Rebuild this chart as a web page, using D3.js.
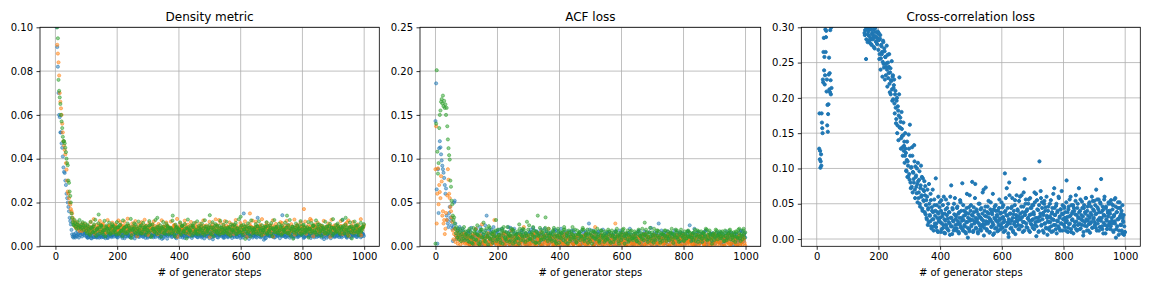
<!DOCTYPE html>
<html>
<head>
<meta charset="utf-8">
<script src="https://cdn.jsdelivr.net/npm/d3@7"></script>
<style>
  body { margin: 0; background: #fff; }
  svg { font-family: "DejaVu Sans", sans-serif; }
</style>
</head>
<body>
<svg id="chart" width="1152" height="288"></svg>
<script>
// x = generator step
const steps = d3.range(0, 100, 2).concat(d3.range(100, 1000, 5));
const stepsB = d3.range(102, 1000, 5);
const stepsC = d3.range(104, 1000, 5);
const stepsXcorr = d3.range(0, 1000, 2);
const stepsXcorrB = d3.range(1, 1000, 2);

// Density metric, values x 1e-4
const densityBlue = [1300,1150,1000,910,820,700,600,590,520,520,470,450,410,360,340,335,300,280,240,220,200,180,160,130,115,100,75,55,45,40,55,45,40,60,50,45,70,55,40,60,50,65,75,45,60,55,70,50,60,65,
  45,40,52,38,60,42,48,40,56,44,62,42,50,48,38,58,46,52,
  57,64,49,73,58,46,62,55,69,50,44,63,58,71,52,47,60,56,
  62,49,55,68,45,59,74,52,47,63,57,50,66,34,58,61,53,70,
  48,56,63,51,67,45,59,54,72,49,58,62,46,55,68,51,60,47,
  57,64,50,46,61,55,70,48,53,66,32,58,52,63,49,57,71,45,
  54,60,47,65,52,58,43,69,56,50,62,48,150,57,45,66,53,59,
  49,61,55,130,46,58,63,30,56,51,67,47,59,44,62,53,48,60,
  55,142,50,64,47,58,53,69,45,61,56,49,66,52,58,44,63,57,
  50,67,46,59,54,62,48,70,52,57,33,63,55,49,68,53,60,46,
  58,51,65,47,120,56,62,44,59,53,68,49,61,56,72,50,64,58];
const densityBlueB = [50,43,58,36,47,62,41,53,39,49,66,44,37,55,48,60,42,51,
  63,47,40,56,52,38,70,45,59,49,42,61,54,36,48,67,43,57,
  46,59,38,52,64,44,50,41,57,72,47,39,53,61,45,50,35,58,
  54,42,66,48,37,56,51,62,40,47,58,44,69,52,38,55,49,63,
  41,57,48,53,36,64,46,59,51,43,67,49,55,40,61,47,52,39,
  58,45,62,50,38,54,71,43,56,48,63,40,52,59,46,34,57,65,
  47,53,40,60,55,44,68,49,38,58,51,63,45,56,42,61,50,37,
  62,48,55,41,95,52,46,59,39,65,50,44,57,53,71,42,48,60,
  52,38,61,47,56,43,66,51,40,58,49,62,45,54,37,59,48,64,
  45,60,50,41,57,68,44,53,62,39,55,48,66,42,51,59,46,54];
const densityBlueC = [39,56,47,61,42,53,45,68,50,41,57,46,63,40,54,49,65,44,
  55,42,59,48,64,51,37,57,45,62,53,40,66,49,58,44,52,61,
  43,64,50,39,56,47,60,53,42,58,66,45,51,38,62,55,48,59,
  61,46,53,40,58,65,43,50,57,38,63,51,45,59,47,70,54,42,
  48,62,40,56,51,45,58,37,64,53,47,60,42,56,50,66,39,55,
  53,41,60,47,67,49,56,42,61,38,54,50,65,44,58,47,53,40,
  59,44,52,64,41,57,48,36,62,50,45,66,53,40,57,48,60,52,
  46,58,43,63,50,39,67,54,47,57,42,61,49,56,38,64,51,45,
  57,49,63,41,53,60,46,51,68,44,55,39,62,50,47,58,42,61,
  50,42,57,63,48,54,39,61,46,58,52,67,44,49,60,41,56,47];
const densityOrange = [1400,1200,1050,920,880,840,780,700,660,630,600,560,520,480,460,440,420,380,350,300,250,240,220,200,190,170,160,150,130,120,110,95,90,85,110,95,80,100,90,70,85,95,80,70,105,90,75,85,100,80,
  85,72,90,68,78,95,66,82,74,100,70,88,76,64,92,80,71,86,
  75,93,68,84,110,72,79,88,65,96,74,82,70,90,77,46,85,73,
  80,69,94,76,52,87,73,100,68,82,75,91,64,78,86,70,95,72,
  66,84,77,92,70,43,88,75,81,67,98,72,79,54,86,74,69,90,
  76,65,83,71,94,68,80,74,42,89,73,85,67,78,120,70,84,66,
  79,72,88,54,76,93,69,81,74,66,87,71,78,95,43,84,150,72,
  80,67,91,74,63,85,52,79,68,94,70,83,76,44,89,73,81,69,
  77,88,65,82,71,96,68,79,74,53,86,72,80,90,67,170,76,84,
  70,125,78,46,89,73,81,64,94,71,77,58,86,74,43,90,75,82,
  69,85,72,93,56,80,74,110,48,87,72,78,65,91,76,83,50,88];
const densityOrangeB = [68,82,61,75,90,57,79,70,86,64,98,73,59,81,67,92,74,63,
  88,66,77,59,83,71,95,62,78,85,69,56,91,75,64,80,72,99,
  61,79,70,87,58,74,93,66,81,69,55,84,76,62,90,71,79,65,
  84,63,72,96,68,80,57,77,89,65,74,60,86,70,93,62,78,73,
  67,91,75,60,82,70,64,88,76,58,85,72,97,66,79,61,73,87,
  74,60,89,69,81,56,78,94,63,72,86,67,59,83,75,68,90,62,
  85,71,63,79,92,66,74,57,87,70,81,62,95,73,64,84,69,78,
  60,83,74,67,90,58,78,71,85,64,96,75,62,80,69,88,57,76,
  79,65,92,71,60,84,73,66,89,77,58,82,70,95,63,76,86,68,
  72,88,61,80,67,93,75,58,84,70,63,91,77,66,82,59,74,87];
const densityOrangeC = [92,78,110,85,124,80,98,88,116,76,104,90,82,120,95,79,108,86,
  100,84,118,77,96,88,112,81,126,93,79,105,87,115,83,99,76,110,
  86,121,95,80,107,89,78,114,92,84,102,77,119,90,81,109,94,83,
  113,79,97,88,125,82,104,91,77,117,86,99,80,111,93,78,106,89,
  81,103,90,118,84,96,79,112,87,101,76,123,92,83,108,78,97,115,
  95,82,109,78,100,91,120,85,79,106,94,82,114,88,77,103,90,117,
  84,112,88,79,98,124,83,93,107,80,96,87,118,81,102,91,78,110,
  106,80,94,116,85,78,101,89,122,83,97,79,109,92,86,113,80,98,
  88,119,81,99,90,108,77,95,84,116,89,80,104,93,121,82,96,87,
  97,83,115,86,79,102,92,118,80,94,111,85,78,100,89,124,83,96];
const densityGreen = [1200,1100,1050,1000,950,760,710,680,650,600,570,540,500,480,480,470,450,430,400,380,370,300,290,250,230,200,150,130,110,100,95,120,105,90,80,100,110,85,95,120,90,80,100,85,110,95,75,90,105,85,
  70,92,58,84,66,100,62,78,145,68,88,55,74,95,63,81,59,90,
  72,64,86,57,98,69,77,61,90,66,83,38,75,105,60,80,67,93,
  58,76,88,63,71,96,42,82,67,74,130,60,79,65,91,57,73,85,
  62,78,140,56,84,69,75,60,92,66,80,36,87,71,63,95,58,76,
  68,83,57,74,64,90,61,79,142,55,86,67,72,59,93,65,77,60,
  84,70,56,88,63,75,98,58,80,68,135,62,77,34,91,66,73,85,
  59,78,67,92,56,81,64,74,88,60,71,95,57,79,66,84,62,73,
  90,58,76,65,140,61,83,70,35,87,68,75,96,59,80,64,72,88,
  40,79,67,93,62,74,100,58,84,69,77,60,91,65,73,85,57,80,
  68,92,61,76,86,59,130,71,64,88,36,82,70,95,63,78,66,84];
const densityGreenB = [60,78,52,88,65,71,48,83,57,96,62,74,45,81,68,55,92,63,
  76,54,87,61,70,47,84,66,58,93,72,50,79,64,89,56,73,60,
  67,85,53,74,62,98,49,78,66,57,86,71,44,82,60,75,91,55,
  81,59,70,46,87,64,76,53,95,68,58,80,62,73,49,88,66,57,
  55,74,90,63,51,79,68,84,57,72,46,93,65,77,54,86,61,70,
  73,60,82,48,75,66,89,56,71,63,94,52,78,67,59,85,45,76,
  64,87,57,70,80,50,74,62,91,55,68,83,47,76,65,89,58,72,
  52,77,66,85,59,72,48,90,63,75,56,81,69,53,96,61,78,66,
  79,58,71,95,64,53,82,68,47,87,60,74,57,91,66,50,84,62,
  68,83,55,72,92,60,77,49,86,64,71,58,95,67,52,80,73,90];
const densityGreenC = [98,74,112,83,90,121,77,105,86,94,72,116,88,80,108,75,101,92,
  79,110,87,96,73,118,84,92,104,76,125,89,81,99,71,113,85,95,
  107,78,93,86,115,72,100,82,120,89,76,96,84,111,74,103,91,80,
  85,117,74,99,88,79,109,93,71,102,83,122,77,95,87,106,73,114,
  93,76,104,81,119,90,74,97,85,110,78,101,92,72,116,84,99,80,
  112,86,77,100,94,73,107,82,123,88,75,98,90,79,105,86,118,74,
  78,101,91,114,72,96,85,80,110,93,76,106,83,120,89,75,102,87,
  95,73,108,84,97,120,79,89,74,104,92,81,115,77,99,86,71,111,
  82,106,93,75,118,87,100,73,94,81,112,90,78,103,85,124,76,97,
  104,80,89,121,76,98,86,73,109,91,79,113,84,96,72,107,88,101];

// ACF loss, values x 1e-3
const acfBlue = [143,186,65,3,88,38,112,120,113,105,98,92,88,84,78,70,60,66,35,30,26,22,38,45,33,29,24,20,6,22,50,52,26,12,8,18,20,15,10,22,12,18,8,14,20,6,16,11,13,9,
  8,15,3,21,10,5,13,12,7,18,2,11,24,35,14,9,19,4,
  12,7,16,3,10,20,5,14,8,22,1,11,17,6,13,4,15,9,
  18,5,12,2,9,16,7,21,3,13,10,6,19,4,11,15,8,2,
  14,6,10,17,3,12,8,20,5,11,15,2,9,13,7,18,4,10,
  6,14,9,3,12,17,5,26,8,11,2,15,7,13,10,4,19,6,
  12,3,16,8,10,5,14,2,11,18,7,9,4,13,15,6,10,3,
  12,8,15,5,10,2,13,17,7,11,4,21,9,6,14,3,26,10,
  5,12,8,15,2,11,7,14,9,4,16,10,3,13,6,12,8,17,
  24,5,11,20,7,13,3,10,15,6,9,2,12,8,14,4,11,7,
  13,5,16,9,3,12,7,15,10,4,11,6,14,2,8,18,9,12];
const acfBlueB = [11,4,17,8,2,13,20,6,10,15,3,9,18,12,5,16,7,22,
  3,14,9,19,6,11,2,16,12,7,21,4,10,15,8,13,1,18,
  10,6,15,12,3,19,8,13,5,17,9,2,14,11,20,6,12,4,
  16,9,3,12,18,7,14,5,10,2,13,17,8,11,4,15,9,6,
  13,2,10,16,7,12,4,19,9,14,6,11,3,17,8,12,5,15,
  7,15,11,4,13,9,17,6,12,3,16,10,14,5,8,20,11,2,
  14,5,9,18,3,11,7,15,12,6,10,2,13,16,8,4,12,9,
  9,16,4,12,7,14,10,3,18,8,13,5,11,15,2,9,14,6,
  12,7,15,3,10,16,8,13,5,11,18,4,9,14,6,12,3,16,
  6,11,3,14,9,17,5,12,8,15,2,10,13,7,16,4,11,15];
const acfBlueC = [17,9,13,5,11,3,16,10,22,4,14,8,12,1,19,6,15,10,
  9,18,5,13,10,15,7,3,11,17,6,12,20,2,14,9,5,13,
  14,3,11,7,16,4,12,18,9,6,15,13,1,10,7,17,13,8,
  5,13,19,6,11,15,2,12,16,8,4,10,14,18,3,11,6,13,
  10,17,5,12,15,3,14,8,11,18,4,9,16,6,13,2,10,12,
  16,8,4,13,2,17,10,12,7,14,5,11,1,9,15,6,13,10,
  4,11,17,9,14,6,12,3,10,16,8,13,5,11,2,14,7,18,
  13,3,10,17,11,5,15,8,2,12,9,16,6,14,10,4,17,11,
  7,14,9,2,16,11,4,13,10,17,5,12,8,3,15,11,6,9,
  15,4,12,10,6,13,9,16,3,11,14,7,5,12,9,17,6,10];
const acfOrange = [88,137,26,60,89,48,70,62,55,80,74,35,40,26,30,14,20,38,30,58,88,76,60,55,45,40,33,28,18,8,14,20,5,12,9,16,3,11,7,13,2,10,6,14,4,12,8,15,3,11,
  5,12,2,9,14,4,20,7,1,11,25,6,3,10,15,2,8,13,
  30,4,9,1,12,6,15,3,8,11,2,18,5,10,7,1,13,4,
  9,22,3,6,12,1,8,14,5,2,10,7,16,3,11,1,6,20,
  4,9,2,13,7,1,10,5,12,3,8,15,1,6,11,2,9,4,
  12,1,7,10,3,14,6,2,11,8,1,22,5,9,3,13,7,2,
  10,4,8,1,12,6,26,3,9,5,11,2,7,14,1,10,4,8,
  3,12,6,1,9,5,13,2,8,11,4,7,1,10,6,12,3,9,
  5,2,11,7,14,1,8,4,10,6,2,12,9,3,7,1,11,5,
  8,13,3,6,1,10,4,12,7,2,9,5,11,1,8,3,14,6,
  2,9,5,11,1,7,12,4,8,3,10,6,1,9,13,5,2,8];
const acfOrangeB = [3,10,6,1,8,13,4,9,2,11,5,7,1,12,6,9,3,14,
  7,2,11,5,1,9,4,13,6,3,10,8,2,12,5,1,9,6,
  1,8,4,12,6,3,10,2,15,7,4,11,1,8,5,13,3,9,
  11,5,1,8,3,12,6,9,2,14,7,1,10,4,8,3,12,6,
  5,10,3,7,12,1,9,4,13,6,2,10,7,1,11,5,8,3,
  8,1,13,5,9,3,7,11,1,6,14,4,9,2,10,6,1,12,
  2,9,4,11,6,1,8,14,3,10,5,7,12,2,9,4,11,6,
  10,4,7,2,12,6,1,9,5,13,3,8,1,11,6,10,3,7,
  4,12,1,9,6,11,3,7,10,2,8,13,5,1,9,4,12,7,
  9,3,10,6,1,8,5,13,2,11,7,3,10,5,1,8,12,4];
const acfOrangeC = [9,2,7,12,4,1,10,6,13,3,8,1,11,5,9,2,6,10,
  4,11,6,2,9,14,1,7,10,5,12,3,8,1,6,11,4,9,
  12,5,1,9,3,7,13,4,1,10,6,2,9,12,4,7,1,11,
  6,1,10,4,12,2,8,3,11,6,1,9,5,13,2,7,10,1,
  1,8,12,5,2,10,4,9,6,1,13,5,3,8,11,2,6,10,
  11,6,2,9,5,1,12,7,3,10,4,8,1,6,11,3,9,5,
  7,1,10,3,12,8,2,5,11,1,9,4,13,6,3,10,2,8,
  3,9,5,12,1,10,4,7,2,11,6,1,8,13,4,9,6,2,
  10,2,8,4,13,1,7,11,3,6,1,10,4,9,12,2,7,5,
  5,12,1,7,10,3,9,2,6,12,4,8,1,11,3,6,9,1];
const acfGreen = [3,140,201,108,83,95,135,150,155,165,168,163,172,160,166,158,162,150,158,137,122,112,104,99,75,68,52,48,35,30,33,26,20,15,22,10,18,12,8,16,20,6,14,11,18,9,22,7,13,17,
  14,6,20,10,3,17,8,24,12,5,19,27,9,15,2,21,11,7,
  16,30,8,13,4,18,22,10,6,15,12,20,3,14,9,17,25,7,
  11,19,5,28,13,8,16,22,10,4,35,14,7,18,12,33,9,20,
  15,6,17,11,3,20,13,9,16,22,5,12,18,8,14,10,19,4,
  9,16,12,21,6,13,19,8,15,3,11,17,10,14,7,18,12,5,
  13,8,17,4,11,15,9,20,6,14,10,16,3,12,18,7,13,9,
  10,15,6,19,12,8,14,27,11,5,16,9,13,20,7,12,17,4,
  14,9,12,6,17,11,15,8,13,19,10,5,16,12,7,14,9,18,
  11,6,15,10,13,18,8,12,5,16,11,19,9,14,7,13,10,15,
  8,14,11,17,6,12,9,15,19,13,7,11,16,10,20,12,8,14];
const acfGreenB = [9,18,12,4,21,15,7,13,2,19,10,16,5,11,23,8,14,17,
  12,6,19,10,15,3,17,8,22,13,7,11,18,5,14,9,20,16,
  20,11,15,7,24,9,13,18,4,16,12,21,8,14,10,17,6,12,
  8,14,21,5,12,17,10,15,7,19,13,3,16,11,22,8,13,18,
  14,7,11,19,9,15,4,13,18,10,16,8,20,6,12,15,9,17,
  10,19,6,15,12,8,17,11,3,16,13,20,9,14,5,11,18,7,
  17,9,14,4,11,20,7,13,16,10,21,6,12,8,15,18,10,13,
  6,13,18,11,9,15,20,4,12,16,8,14,19,10,6,13,17,11,
  15,10,7,19,13,5,11,17,9,14,20,7,16,12,3,15,11,18,
  12,17,9,13,6,15,10,18,8,12,16,5,11,19,9,14,18,10];
const acfGreenC = [13,5,16,11,8,19,14,3,17,10,13,6,20,12,9,15,4,11,
  18,10,13,7,20,12,9,16,11,5,15,19,7,13,10,3,14,12,
  7,15,12,19,9,14,6,11,17,13,4,10,16,8,21,12,15,9,
  12,18,7,14,10,4,16,12,19,9,15,11,6,17,13,10,5,14,
  16,11,19,8,13,10,15,6,12,17,9,14,11,4,18,10,13,7,
  9,14,12,18,5,11,16,13,10,7,19,12,15,8,13,17,9,14,
  11,6,17,12,15,9,13,19,8,14,11,16,4,12,18,10,7,15,
  14,18,9,13,7,16,11,14,10,18,12,6,15,11,17,9,12,16,
  10,13,16,6,11,17,14,9,15,12,8,13,18,10,14,7,19,12,
  13,9,15,11,18,7,14,12,16,10,13,17,9,15,6,12,20,16];

// Cross-correlation loss, values x 1e-3 (above 300 is off the plot)
const xcorrBlue = [350,340,330,320,128,113,101,120,178,157,226,265,239,219,297,286,209,161,152,191,257,235,296,205,214,
  330,345,360,372,385,398,410,420,415,425,430,428,435,440,432,438,445,436,441,430,437,425,432,420,428,
  420,415,410,405,400,395,390,385,380,375,370,365,360,355,350,345,340,335,330,325,320,318,315,312,310,
  308,305,303,289,310,255,298,302,290,281,297,278,285,300,275,292,283,296,288,270,299,280,286,276,294,
  268,282,262,289,256,273,265,251,279,243,266,258,232,249,240,261,228,244,220,236,205,224,212,230,198,
  218,192,205,186,170,200,161,182,175,229,158,166,143,156,130,147,125,138,118,128,97,112,88,104,148,
  92,162,80,101,74,118,95,85,133,70,103,90,65,78,108,58,84,50,72,104,62,43,86,55,68,
  38,75,48,30,60,20,44,78,34,25,55,15,40,70,28,18,48,33,86,22,12,38,60,26,45,
  30,10,55,22,36,16,60,28,8,42,20,34,14,50,24,38,6,30,76,18,44,26,12,35,58,
  20,32,15,46,25,10,38,22,52,16,30,79,12,27,40,18,34,8,44,24,2,36,14,62,28,
  48,20,81,33,12,38,25,78,16,42,28,10,35,22,50,14,30,44,18,66,26,5,40,21,73,
  32,12,46,24,36,9,28,52,17,38,23,6,42,30,15,48,26,34,11,40,20,56,29,14,37,
  22,45,31,10,27,93,40,18,72,33,24,3,80,36,15,44,26,58,12,35,21,48,7,30,62,
  25,40,14,54,28,36,19,62,31,10,46,24,85,38,56,17,42,29,50,12,34,58,22,44,27,
  16,48,35,66,20,30,4,55,25,41,11,110,32,68,19,52,28,37,9,54,22,45,15,33,6,
  40,24,13,50,30,18,36,44,11,27,72,34,20,47,8,38,25,60,15,32,42,22,68,12,35,
  28,46,17,38,24,83,31,10,42,21,56,33,14,48,27,39,8,44,19,35,62,25,12,50,30,
  72,22,40,15,34,53,26,5,44,19,38,58,28,12,46,33,21,52,9,37,24,60,16,42,30,
  54,20,35,70,12,45,27,56,38,17,50,85,30,14,41,23,56,33,8,46,26,18,37,52,21,
  40,14,55,30,22,48,10,34,25,58,2,38,18,44,28,12,52,33,20,40,8,30,24,6,9];
const xcorrBlueB = [360,345,335,325,178,125,110,104,165,150,222,285,258,232,265,295,226,190,177,233,212,208,225,300,305,
  335,350,362,370,380,392,405,412,418,422,428,433,438,442,440,436,444,439,434,430,426,422,418,414,410,
  406,402,398,394,390,386,382,378,374,370,366,362,358,354,350,346,342,338,334,330,326,322,318,315,313,
  312,304,292,296,301,283,306,279,294,288,300,282,297,276,290,303,285,272,298,287,293,279,305,284,291,
  292,255,284,240,275,262,230,281,248,270,226,258,244,274,216,250,235,262,208,242,225,252,196,232,214,
  226,178,210,164,196,150,188,140,205,158,172,128,180,146,118,165,132,108,150,122,96,138,110,88,128,
  84,118,72,102,130,66,94,80,110,58,88,74,100,52,82,66,96,46,76,60,88,40,70,54,82,
  62,35,55,28,70,42,24,50,33,64,18,45,28,38,12,56,22,40,17,48,30,10,36,25,52,
  24,40,14,32,48,20,9,36,26,56,16,44,29,12,38,22,60,18,30,7,42,25,50,15,34,
  28,12,44,21,36,8,30,55,18,40,26,14,48,33,20,10,38,24,64,16,30,45,11,26,40,
  18,34,27,10,45,22,58,30,15,39,24,8,50,32,19,42,12,28,36,21,70,16,33,46,25,
  14,38,22,54,30,10,42,26,18,35,64,20,8,46,28,40,16,32,24,12,44,27,36,18,52,
  30,16,48,24,38,12,58,34,20,44,8,28,62,22,36,16,46,30,10,40,24,55,18,34,26,
  42,20,32,14,60,28,46,18,38,24,66,12,34,50,22,40,16,30,56,26,10,44,35,20,48,
  28,38,14,52,24,64,18,42,30,10,48,26,36,58,20,44,12,34,50,22,40,16,60,30,25,
  46,16,32,24,55,10,38,28,64,20,44,34,14,50,26,40,18,58,30,12,42,22,36,48,28,
  20,44,30,12,52,26,38,16,46,32,22,60,10,36,28,48,18,40,24,54,14,34,44,20,30,
  38,14,56,28,20,44,32,10,48,24,36,58,18,40,26,12,50,30,22,46,34,16,54,28,40,
  24,48,16,36,56,22,42,12,30,52,26,38,18,46,8,34,60,20,44,28,14,40,32,50,24,
  36,18,50,26,42,12,32,56,22,46,14,38,28,52,6,30,44,20,36,12,48,26,34,18,10];

const xTicks = [0, 200, 400, 600, 800, 1000];
const densityTicks = [0, 0.02, 0.04, 0.06, 0.08, 0.10];
const acfTicks = [0, 0.05, 0.10, 0.15, 0.20, 0.25];
const xcorrTicks = [0, 0.05, 0.10, 0.15, 0.20, 0.25, 0.30];

const blue = "#1f77b4", orange = "#ff7f0e", green = "#2ca02c";

// each series: colour + list of [steps, values] chunks
const panels = [
  { title: "Density metric", left: 40, right: 379.3, yDomain: [0, 0.1], yTicks: densityTicks, alpha: 0.5, unit: 1e-4,
    series: [
      [blue, [[steps, densityBlue], [stepsB, densityBlueB], [stepsC, densityBlueC]]],
      [orange, [[steps, densityOrange], [stepsB, densityOrangeB], [stepsC, densityOrangeC]]],
      [green, [[steps, densityGreen], [stepsB, densityGreenB], [stepsC, densityGreenC]]]
    ] },
  { title: "ACF loss", left: 420, right: 760.7, yDomain: [0, 0.25], yTicks: acfTicks, alpha: 0.5, unit: 1e-3,
    series: [
      [blue, [[steps, acfBlue], [stepsB, acfBlueB], [stepsC, acfBlueC]]],
      [orange, [[steps, acfOrange], [stepsB, acfOrangeB], [stepsC, acfOrangeC]]],
      [green, [[steps, acfGreen], [stepsB, acfGreenB], [stepsC, acfGreenC]]]
    ] },
  { title: "Cross-correlation loss", left: 801.3, right: 1140.3, yDomain: [-0.0103, 0.3], yTicks: xcorrTicks, alpha: 1, unit: 1e-3,
    series: [
      [blue, [[stepsXcorr, xcorrBlue], [stepsXcorrB, xcorrBlueB]]]
    ] }
];

const plotTop = 27.3, plotBottom = 246.3;
const svg = d3.select("#chart");

panels.forEach((p, idx) => {
  const x = d3.scaleLinear().domain([-49.95, 1048.95]).range([p.left, p.right]);
  const y = d3.scaleLinear().domain(p.yDomain).range([plotBottom, plotTop]);

  svg.append("clipPath").attr("id", "clip" + idx)
    .append("rect")
    .attr("x", p.left).attr("y", plotTop)
    .attr("width", p.right - p.left).attr("height", plotBottom - plotTop);

  const g = svg.append("g");

  // grid
  g.append("g").selectAll("line").data(xTicks).join("line")
    .attr("x1", d => x(d)).attr("x2", d => x(d))
    .attr("y1", plotTop).attr("y2", plotBottom)
    .attr("stroke", "#b0b0b0").attr("stroke-width", 0.8);
  g.append("g").selectAll("line").data(p.yTicks).join("line")
    .attr("x1", p.left).attr("x2", p.right)
    .attr("y1", d => y(d)).attr("y2", d => y(d))
    .attr("stroke", "#b0b0b0").attr("stroke-width", 0.8);

  // points
  const pts = g.append("g").attr("clip-path", `url(#clip${idx})`);
  p.series.forEach(([color, chunks]) => {
    const data = [];
    chunks.forEach(([xs, vals]) => {
      vals.forEach((v, i) => { if (xs[i] !== undefined) data.push([xs[i], v * p.unit]); });
    });
    pts.append("g").selectAll("circle").data(data).join("circle")
      .attr("cx", d => x(d[0]))
      .attr("cy", d => y(d[1]))
      .attr("r", 1.6)
      .attr("fill", color).attr("fill-opacity", p.alpha)
      .attr("stroke", color).attr("stroke-opacity", p.alpha)
      .attr("stroke-width", 1);
  });

  // axes
  const xAxis = g.append("g").attr("transform", `translate(0,${plotBottom})`)
    .call(d3.axisBottom(x).tickValues(xTicks).tickSize(3.5).tickPadding(3.5).tickFormat(d3.format("d")));
  const yAxis = g.append("g").attr("transform", `translate(${p.left},0)`)
    .call(d3.axisLeft(y).tickValues(p.yTicks).tickSize(3.5).tickPadding(3.5).tickFormat(d3.format(".2f")));
  [xAxis, yAxis].forEach(a => {
    a.select(".domain").remove();
    a.selectAll(".tick line").attr("stroke", "#000").attr("stroke-width", 0.8);
    a.selectAll("text").attr("fill", "#000").style("font-size", "10px").style("font-family", "DejaVu Sans");
  });

  // spines
  g.append("rect")
    .attr("x", p.left).attr("y", plotTop)
    .attr("width", p.right - p.left).attr("height", plotBottom - plotTop)
    .attr("fill", "none").attr("stroke", "#000").attr("stroke-width", 0.8);

  g.append("text")
    .attr("x", (p.left + p.right) / 2).attr("y", 20.8)
    .attr("text-anchor", "middle")
    .style("font-size", "12px")
    .text(p.title);

  g.append("text")
    .attr("x", (p.left + p.right) / 2).attr("y", 275.5)
    .attr("text-anchor", "middle")
    .style("font-size", "10px")
    .text("# of generator steps");
});
</script>
</body>
</html>
